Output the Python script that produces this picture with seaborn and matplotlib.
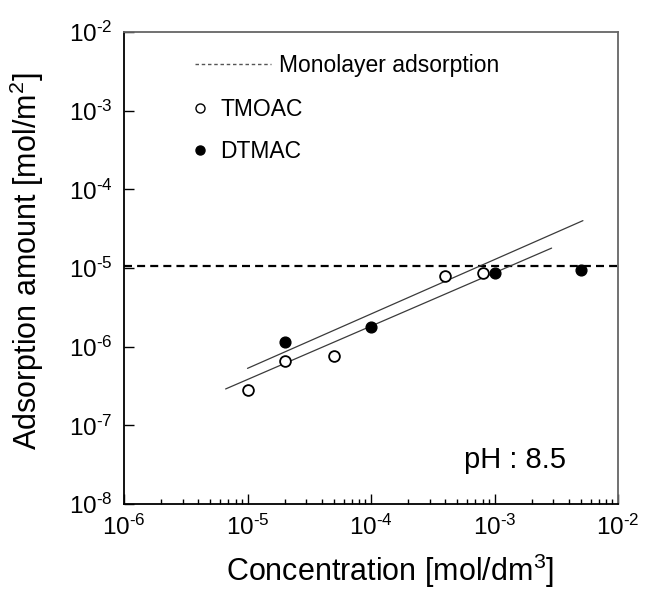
import matplotlib
matplotlib.use("Agg")
import numpy as np
import pandas as pd
import matplotlib.pyplot as plt
import seaborn as sns
from matplotlib.lines import Line2D
from matplotlib.ticker import LogLocator, NullLocator, NullFormatter, FixedFormatter

# ---- data ----
tmoac_conc = [1e-5, 2e-5, 5e-5, 4e-4, 8e-4]
tmoac_ads = [2.8e-7, 6.5e-7, 7.7e-7, 7.8e-6, 8.6e-6]
dtmac_conc = [2e-5, 1e-4, 1e-3, 5e-3]
dtmac_ads = [1.16e-6, 1.8e-6, 8.75e-6, 9.5e-6]
fit_upper_conc = [1e-5, 5.2e-3]
fit_upper_ads = [5.3e-7, 4.0e-5]
fit_lower_conc = [6.65e-6, 2.9e-3]
fit_lower_ads = [2.9e-7, 1.79e-5]
monolayer = 1.05e-5
x_exps = [-6, -5, -4, -3, -2]
y_exps = [-8, -7, -6, -5, -4, -3, -2]

sns.set_style("ticks")
plt.rcParams["font.family"] = ["Liberation Sans", "DejaVu Sans"]
plt.rcParams["mathtext.fontset"] = "custom"
plt.rcParams["mathtext.rm"] = "Liberation Sans"
plt.rcParams["mathtext.it"] = "Liberation Sans:italic"
plt.rcParams["mathtext.bf"] = "Liberation Sans:bold"
plt.rcParams["text.color"] = "black"
plt.rcParams["axes.labelcolor"] = "black"
plt.rcParams["xtick.color"] = "black"
plt.rcParams["ytick.color"] = "black"


def pow_label(e):
    return r"$\mathregular{10^{\text{-}%d}}$" % abs(e)


fig = plt.figure(figsize=(6.55, 5.89), dpi=100)
ax = fig.add_axes([124 / 655, 1 - 504 / 589, 494 / 655, 472 / 589])
ax.set_xscale("log")
ax.set_yscale("log")

tm = pd.DataFrame({"conc": tmoac_conc, "ads": tmoac_ads})
dt = pd.DataFrame({"conc": dtmac_conc, "ads": dtmac_ads})
fu = pd.DataFrame({"conc": fit_upper_conc, "ads": fit_upper_ads})
fl = pd.DataFrame({"conc": fit_lower_conc, "ads": fit_lower_ads})

sns.lineplot(data=fu, x="conc", y="ads", ax=ax, color="#3a3a3a", lw=0.9, zorder=2)
sns.lineplot(data=fl, x="conc", y="ads", ax=ax, color="#3a3a3a", lw=0.9, zorder=2)
ax.axhline(monolayer, color="black", lw=1.6, ls=(0, (3.6, 2.3)), zorder=1)

sns.scatterplot(data=tm, x="conc", y="ads", ax=ax, marker="o", s=60,
                facecolor="white", edgecolor="black", linewidth=1.3, zorder=3)
sns.scatterplot(data=dt, x="conc", y="ads", ax=ax, marker="o", s=60,
                color="black", edgecolor="black", linewidth=1.0, zorder=3)

ax.set_xlim(1e-6, 1e-2)
ax.set_ylim(1e-8, 1e-2)
ax.set_xticks([10.0 ** e for e in x_exps])
ax.set_yticks([10.0 ** e for e in y_exps])
ax.xaxis.set_major_formatter(FixedFormatter([pow_label(e) for e in x_exps]))
ax.yaxis.set_major_formatter(FixedFormatter([pow_label(e) for e in y_exps]))
ax.xaxis.set_minor_locator(LogLocator(base=10, subs=np.arange(2, 10) * 1.0, numticks=20))
ax.xaxis.set_minor_formatter(NullFormatter())
ax.yaxis.set_minor_locator(NullLocator())
ax.tick_params(axis="both", which="major", direction="in", length=7, width=1.0,
               labelsize=17.5, color="black")
ax.tick_params(axis="x", which="major", pad=8)
ax.tick_params(axis="y", which="major", pad=8)
ax.tick_params(axis="x", which="minor", direction="in", length=3.5, width=1.0)

for s in ["left", "bottom"]:
    ax.spines[s].set_linewidth(1.3)
    ax.spines[s].set_color("black")
for s in ["top", "right"]:
    ax.spines[s].set_linewidth(1.3)
    ax.spines[s].set_color("#666666")

ax.set_xlabel("Concentration [mol/dm$^3$]", fontsize=22)
ax.set_ylabel("Adsorption amount [mol/m$^2$]", fontsize=22)
ax.xaxis.set_label_coords(0.538, -0.10)
ax.yaxis.set_label_coords(-0.158, 0.515)

ax.text((464 - 124) / 494, 1 - (460 - 32) / 472, "pH : 8.5", transform=ax.transAxes,
        fontsize=21, ha="left", va="center")

h1 = Line2D([], [], color="#555555", lw=1.0, ls=(0, (2.5, 2.0)))
leg1 = ax.legend([h1], ["Monolayer adsorption"], loc="upper left",
                 bbox_to_anchor=((195 - 124) / 494, 1 - (54 - 32) / 472),
                 frameon=False, fontsize=16.5, handlelength=3.3, handletextpad=0.35,
                 borderpad=0, borderaxespad=0)
ax.add_artist(leg1)
h2 = Line2D([], [], marker="o", ls="none", markersize=6.5, markerfacecolor="white",
            markeredgecolor="black", markeredgewidth=1.0)
h3 = Line2D([], [], marker="o", ls="none", markersize=6.5, markerfacecolor="black",
            markeredgecolor="black")
ax.legend([h2, h3], ["TMOAC", "DTMAC"], loc="upper left",
          bbox_to_anchor=((193 - 124) / 494, 1 - (98 - 32) / 472),
          frameon=False, fontsize=16.5, handlelength=0.6, handletextpad=0.6,
          labelspacing=0.83, borderpad=0, borderaxespad=0)

fig.savefig("out.png", dpi=100)
